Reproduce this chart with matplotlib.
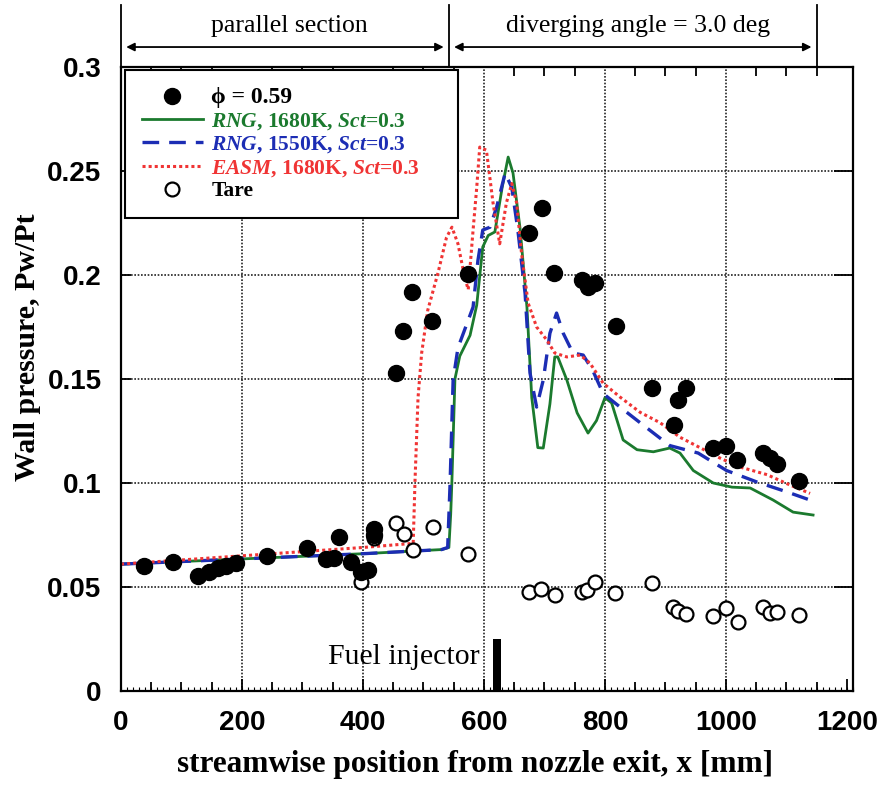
import matplotlib
matplotlib.use('Agg')
import matplotlib.pyplot as plt
from matplotlib.ticker import MultipleLocator, FixedLocator

plt.rcParams['mathtext.fontset'] = 'custom'
plt.rcParams['mathtext.rm'] = 'Liberation Serif:bold'
plt.rcParams['mathtext.it'] = 'Liberation Serif:italic:bold'
plt.rcParams['mathtext.bf'] = 'Liberation Serif:bold'

# measured wall pressure, phi = 0.59
phiX = [38, 86, 127, 145, 160, 174, 190, 241, 307, 339, 352, 360, 380, 397, 408, 418, 418,
        455, 466, 481, 514, 574, 675, 696, 716, 762, 772, 783, 818, 878, 914, 921, 934,
        979, 1000, 1019, 1061, 1073, 1084, 1121]
phiY = [0.060, 0.062, 0.0553, 0.057, 0.059, 0.060, 0.0615, 0.065, 0.0687, 0.0635, 0.064, 0.074,
        0.062, 0.057, 0.058, 0.078, 0.075, 0.153, 0.173, 0.192, 0.178, 0.2005, 0.220, 0.232,
        0.201, 0.1975, 0.194, 0.196, 0.1755, 0.1457, 0.128, 0.140, 0.1457, 0.117, 0.118, 0.111,
        0.1144, 0.112, 0.109, 0.101]

# tare (no fuel)
tareX = [397, 418, 454, 468, 483, 515, 573, 675, 695, 717, 762, 770, 784, 817, 878, 913, 921,
         934, 979, 1000, 1020, 1061, 1073, 1084, 1121]
tareY = [0.0525, 0.0735, 0.081, 0.0755, 0.068, 0.079, 0.066, 0.0476, 0.049, 0.046, 0.0476,
         0.0486, 0.0524, 0.047, 0.052, 0.0404, 0.0385, 0.037, 0.036, 0.040, 0.033, 0.0404,
         0.0375, 0.038, 0.0365]

# RNG, 1680K
rng1680X = [0, 200, 400, 530, 542, 545, 547, 552, 560, 577, 588, 598, 607, 618, 630, 640, 648,
            660, 671, 679, 689, 698, 709, 717, 722, 737, 754, 772, 786, 800, 811, 830, 853, 880,
            907, 924, 946, 979, 1010, 1040, 1078, 1111, 1144]
rng1680Y = [0.061, 0.0635, 0.066, 0.068, 0.069, 0.085, 0.101, 0.150, 0.161, 0.171, 0.1855,
            0.2135, 0.219, 0.2207, 0.242, 0.2567, 0.249, 0.2216, 0.1846, 0.141, 0.117, 0.1168,
            0.138, 0.1606, 0.1606, 0.1495, 0.1337, 0.124, 0.130, 0.141, 0.1385, 0.1207, 0.116,
            0.115, 0.1168, 0.1144, 0.106, 0.100, 0.098, 0.0976, 0.0918, 0.086, 0.0846]

# RNG, 1550K
rng1550X = [0, 200, 400, 530, 540, 544, 549, 557, 582, 590, 598, 610, 621, 635, 646, 656, 668,
            676, 687, 698, 709, 720, 731, 747, 764, 780, 797, 825, 858, 907, 954, 1001, 1051,
            1101, 1139]
rng1550Y = [0.061, 0.0635, 0.066, 0.068, 0.069, 0.100, 0.1495, 0.165, 0.1846, 0.207, 0.2216,
            0.223, 0.2327, 0.249, 0.242, 0.2216, 0.191, 0.153, 0.1365, 0.1495, 0.172, 0.1817,
            0.172, 0.1625, 0.1615, 0.154, 0.143, 0.1365, 0.129, 0.118, 0.1144, 0.106, 0.1005,
            0.0957, 0.0918]

# EASM, 1680K
easmX = [0, 200, 400, 483, 486, 491, 497, 507, 524, 538, 547, 557, 568, 574, 582, 588, 593,
         604, 615, 626, 637, 646, 654, 662, 673, 687, 704, 717, 737, 759, 775, 797, 825, 858,
         891, 924, 957, 990, 1023, 1068, 1106, 1139]
easmY = [0.061, 0.065, 0.069, 0.071, 0.101, 0.141, 0.1625, 0.183, 0.201, 0.218, 0.223, 0.215,
         0.199, 0.193, 0.2216, 0.242, 0.2615, 0.260, 0.2346, 0.215, 0.2346, 0.244, 0.2346,
         0.2106, 0.1865, 0.175, 0.1687, 0.1625, 0.1606, 0.1615, 0.1577, 0.148, 0.1413, 0.134,
         0.129, 0.122, 0.117, 0.112, 0.1077, 0.104, 0.099, 0.095]

xTicks = [0, 200, 400, 600, 800, 1000, 1200]
yTicks = [0, 0.05, 0.1, 0.15, 0.2, 0.25, 0.3]
yTickLabels = ['0', '0.05', '0.1', '0.15', '0.2', '0.25', '0.3']

injectorX = 621
injectorH = 0.025
sectionEdges = [0, 542, 1150]
sectionNames = ['parallel section', 'diverging angle = 3.0 deg']

GREEN = '#1b7a2e'
BLUE = '#1c2db4'
RED = '#f03434'
SERIF = ['Liberation Serif', 'DejaVu Serif']


def main():
    fig = plt.figure(figsize=(8.93, 7.85), dpi=100)
    ax = fig.add_axes([121 / 893, 1 - 691 / 785, 732 / 893, 624 / 785])

    ax.plot(rng1680X, rng1680Y, '-', color=GREEN, lw=2.0, label=r'$RNG$, 1680K, $Sct$=0.3')
    ax.plot(rng1550X, rng1550Y, color=BLUE, lw=2.4, dashes=(5, 3), label=r'$RNG$, 1550K, $Sct$=0.3')
    ax.plot(easmX, easmY, color=RED, lw=2.2, dashes=(1.0, 1.0), label=r'$EASM$, 1680K, $Sct$=0.3')
    ax.plot(phiX, phiY, 'o', color='black', ms=11.5, label='\u03d5 = 0.59', zorder=5)
    ax.plot(tareX, tareY, 'o', mfc='white', mec='black', mew=1.6, ms=10, label='Tare', zorder=4)

    # fuel injector position
    ax.bar([injectorX], [injectorH], width=13, color='black', zorder=3)
    ax.text(592, 0.0165, 'Fuel injector', family=SERIF, fontsize=21.5, ha='right', va='center')

    ax.set_xlim(0, 1210)
    ax.set_ylim(0, 0.3)
    ax.xaxis.set_major_locator(FixedLocator(xTicks))
    ax.xaxis.set_minor_locator(MultipleLocator(50))
    ax.yaxis.set_major_locator(FixedLocator(yTicks))
    ax.set_yticklabels(yTickLabels)
    ax.tick_params(which='both', direction='in', top=True, right=True, width=1.3)
    ax.tick_params(axis='x', which='major', length=9, top=False, pad=14)
    ax.tick_params(axis='x', which='minor', length=6.5, top=True)
    ax.tick_params(axis='y', which='major', length=7, pad=14)
    for t in ax.get_yticklines()[1::2]:
        t.set_markersize(14)
    for lab in ax.get_xticklabels() + ax.get_yticklabels():
        lab.set_family(['Liberation Sans', 'DejaVu Sans'])
        lab.set_fontweight('bold')
        lab.set_fontsize(20)

    # fine ruler ticks along the bottom
    ruler = ax.secondary_xaxis('bottom')
    ruler.xaxis.set_major_locator(MultipleLocator(10))
    ruler.tick_params(direction='in', length=3, width=0.8, labelbottom=False)
    ruler.spines['bottom'].set_visible(False)

    for s in ax.spines.values():
        s.set_linewidth(1.6)

    ax.grid(True, which='major', linestyle=(0, (1, 1)), color='#222222', lw=1.2)
    ax.get_xgridlines()[-1].set_visible(False)
    ax.set_axisbelow(True)

    ax.set_xlabel('streamwise position from nozzle exit, x [mm]', family=SERIF,
                  fontweight='bold', fontsize=22.5)
    ax.set_ylabel('Wall pressure, Pw/Pt', family=SERIF, fontweight='bold', fontsize=21.5)
    ax.xaxis.set_label_coords(0.484, -0.095)
    ax.yaxis.set_label_coords(-0.109, 0.551)

    # section header above the plot
    for xe in sectionEdges:
        ax.plot([xe, xe], [0.3, 0.33], color='black', lw=1.3, clip_on=False)
    for i, name in enumerate(sectionNames):
        a, b = sectionEdges[i], sectionEdges[i + 1]
        ax.annotate('', xy=(a + 4, 0.3096), xytext=(b - 4, 0.3096),
                    arrowprops=dict(arrowstyle='<|-|>', color='black', lw=1.3, mutation_scale=12),
                    annotation_clip=False)
        ax.text((a + b) / 2 + 8, 0.3195, name, family=SERIF, fontsize=18.5, ha='center', va='center')

    handles, labels = ax.get_legend_handles_labels()
    idx = [3, 0, 1, 2, 4]
    leg = ax.legend([handles[i] for i in idx], [labels[i] for i in idx], loc='upper left',
                    bbox_to_anchor=(0.0055, 0.7, 0.455, 0.295), mode='expand', borderaxespad=0,
                    fancybox=False, edgecolor='black', framealpha=1,
                    prop={'family': SERIF, 'weight': 'bold', 'size': 15.5},
                    handlelength=2.8, handletextpad=0.4, labelspacing=0.12, borderpad=0.8)
    leg.get_frame().set_linewidth(1.5)
    textColors = ['black', GREEN, BLUE, RED, 'black']
    for txt, c in zip(leg.get_texts(), textColors):
        txt.set_color(c)
    leg.texts[0].set_fontsize(17)

    fig.savefig('out.png', dpi=100)


if __name__ == "__main__":
    main()
